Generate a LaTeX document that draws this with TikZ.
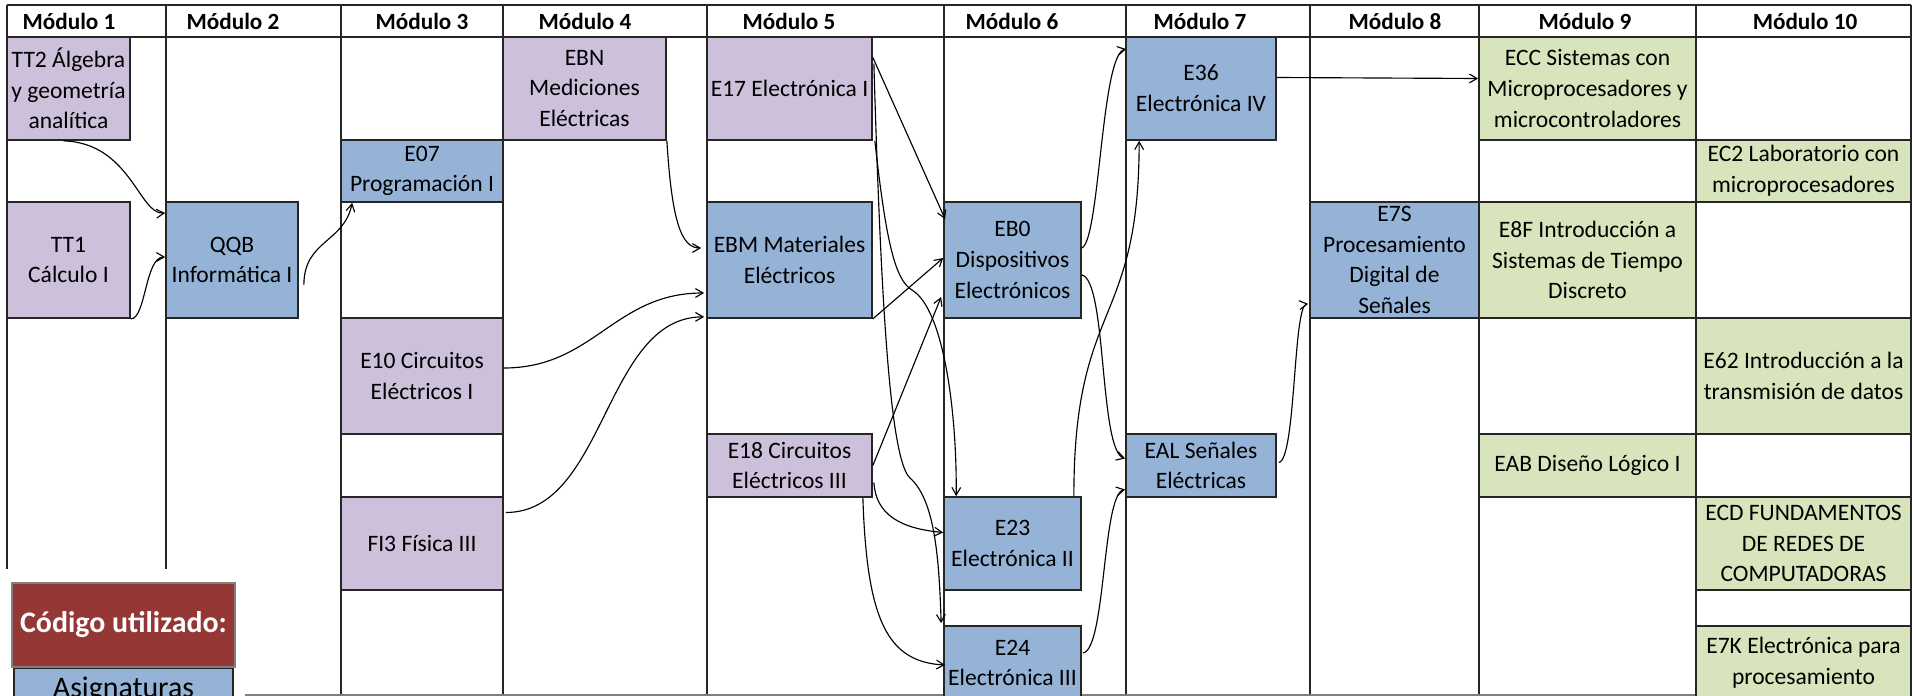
\documentclass[tikz,border=0pt]{standalone}
\usepackage{fontspec}
\setmainfont{Carlito}
\usepackage{tikz}
\usetikzlibrary{arrows.meta,calc}
\definecolor{lila}{RGB}{204,192,218}
\definecolor{azul}{RGB}{149,179,215}
\definecolor{verde}{RGB}{216,228,188}
\definecolor{rojo}{RGB}{149,55,53}

\begin{document}
\begin{tikzpicture}[x=0.02cm,y=-0.02cm]
	\tikzstyle{caja}=[draw=black!85,line width=1pt,inner sep=0pt,align=center,font=\fontsize{13.4}{17.5}\selectfont]
	\tikzstyle{obl}=[caja,fill=lila]
	\tikzstyle{elec}=[caja,fill=azul]
	\tikzstyle{opt}=[caja,fill=verde]
	\tikzstyle{modulo}=[font=\fontsize{13.2}{15}\selectfont\bfseries]
	\tikzstyle{flecha}=[-{Straight Barb[angle=60:5pt]},line width=0.65pt]
	\useasboundingbox (0,0) rectangle (1916,696);
	\draw[line width=1pt,black!85] (7,5) -- (1911,5);
	\draw[line width=1pt,black!85] (7,37) -- (1911,37);
	\draw[line width=1pt,black!85] (7,5) -- (7,569);
	\draw[line width=1pt,black!85] (166,5) -- (166,569);
	\draw[line width=1pt,black!85] (341,5) -- (341,696);
	\draw[line width=1pt,black!85] (503,5) -- (503,696);
	\draw[line width=1pt,black!85] (707,5) -- (707,696);
	\draw[line width=1pt,black!85] (944,5) -- (944,696);
	\draw[line width=1pt,black!85] (1126,5) -- (1126,696);
	\draw[line width=1pt,black!85] (1310,5) -- (1310,696);
	\draw[line width=1pt,black!85] (1479,5) -- (1479,696);
	\draw[line width=1pt,black!85] (1696,5) -- (1696,696);
	\draw[line width=1pt,black!85] (1911,5) -- (1911,696);
	\draw[line width=0.6pt,gray] (245,695) -- (1911,695);
	\node[modulo](h1) at (69,21) {Módulo 1};
	\node[modulo](h2) at (233,21) {Módulo 2};
	\node[modulo](h3) at (422,21) {Módulo 3};
	\node[modulo](h4) at (585,21) {Módulo 4};
	\node[modulo](h5) at (789,21) {Módulo 5};
	\node[modulo](h6) at (1012,21) {Módulo 6};
	\node[modulo](h7) at (1200,21) {Módulo 7};
	\node[modulo](h8) at (1395,21) {Módulo 8};
	\node[modulo](h9) at (1585,21) {Módulo 9};
	\node[modulo](h10) at (1805,21) {Módulo 10};
	\node[obl,minimum width=2.46cm,minimum height=2.06cm](tt2) at (68.5,88.5) {TT2 Álgebra\\y geometría\\analítica};
	\node[obl,minimum width=2.46cm,minimum height=2.32cm](tt1) at (68.5,260) {TT1\\Cálculo I};
	\node[elec,minimum width=2.64cm,minimum height=2.32cm](qqb) at (232,260) {QQB\\Informática I};
	\node[elec,minimum width=3.24cm,minimum height=1.24cm](e07) at (422,171) {E07\\Programación I};
	\node[obl,minimum width=3.24cm,minimum height=2.32cm](e10) at (422,376) {E10 Circuitos\\Eléctricos I};
	\node[obl,minimum width=3.24cm,minimum height=1.86cm](fi3) at (422,543.5) {FI3 Física III};
	\node[obl,minimum width=3.26cm,minimum height=2.06cm](ebn) at (584.5,88.5) {EBN\\Mediciones\\Eléctricas};
	\node[obl,minimum width=3.30cm,minimum height=2.06cm](e17) at (789.5,88.5) {E17 Electrónica I};
	\node[elec,minimum width=3.30cm,minimum height=2.32cm](ebm) at (789.5,260) {EBM Materiales\\Eléctricos};
	\node[obl,minimum width=3.30cm,minimum height=1.26cm](e18) at (789.5,465.5) {E18 Circuitos\\Eléctricos III};
	\node[elec,minimum width=2.74cm,minimum height=2.32cm](eb0) at (1012.5,260) {EB0\\Dispositivos\\Electrónicos};
	\node[elec,minimum width=2.74cm,minimum height=1.86cm](e23) at (1012.5,543.5) {E23\\Electrónica II};
	\node[elec,minimum width=2.74cm,minimum height=1.48cm](e24) at (1012.5,663) {E24\\Electrónica III};
	\node[elec,minimum width=3.00cm,minimum height=2.06cm](e36) at (1201,88.5) {E36\\Electrónica IV};
	\node[elec,minimum width=3.00cm,minimum height=1.26cm](eal) at (1201,465.5) {EAL Señales\\Eléctricas};
	\node[elec,minimum width=3.38cm,minimum height=2.32cm](e7s) at (1394.5,260) {E7S\\Procesamiento\\Digital de\\Señales};
	\node[opt,minimum width=4.34cm,minimum height=2.06cm](ecc) at (1587.5,88.5) {ECC Sistemas con\\Microprocesadores y\\microcontroladores};
	\node[opt,minimum width=4.34cm,minimum height=2.32cm](e8f) at (1587.5,260) {E8F Introducción a\\Sistemas de Tiempo\\Discreto};
	\node[opt,minimum width=4.34cm,minimum height=1.26cm](eab) at (1587.5,465.5) {EAB Diseño Lógico I};
	\node[opt,minimum width=4.30cm,minimum height=1.24cm](ec2) at (1803.5,171) {EC2 Laboratorio con\\microprocesadores};
	\node[opt,minimum width=4.30cm,minimum height=2.32cm](e62) at (1803.5,376) {E62 Introducción a la\\transmisión de datos};
	\node[opt,minimum width=4.30cm,minimum height=1.86cm](ecd) at (1803.5,543.5) {ECD FUNDAMENTOS\\DE REDES DE\\COMPUTADORAS};
	\node[opt,minimum width=4.30cm,minimum height=1.48cm](e7k) at (1803.5,663) {E7K Electrónica para\\procesamiento};
	\node[caja,fill=azul,font=\fontsize{17}{20}\selectfont,minimum width=4.38cm,minimum height=0.88cm](asig) at (123.5,690) {Asignaturas};
	\node[caja,fill=rojo,draw=gray,line width=1.6pt,text=white,font=\fontsize{17}{20}\selectfont\bfseries,minimum width=4.46cm,minimum height=1.68cm](codigo) at (123.5,625) {Código utilizado:};
	\draw[flecha] ($(tt2.south)+(-5,0)$) .. controls +(67,2) and +(-26,2) .. ($(qqb.west)+(0,-47)$);
	\draw[flecha] (tt1.south east) .. controls +(15,0) and +(-20,0) .. ($(qqb.west)+(0,-3)$);
	\draw[flecha] ($(qqb.east)+(5,25)$) .. controls +(0,-45) and +(-8,40) .. ($(e07.south west)+(12,0)$);
	\draw[flecha] (ebn.south east) .. controls +(5,80) and +(-20,0) .. ($(ebm.west)+(-5,-12)$);
	\draw[flecha] ($(e10.east)+(0,-8)$) .. controls +(90,0) and +(-90,0) .. ($(ebm.west)+(-2,33)$);
	\draw[flecha] ($(fi3.east)+(2,-31)$) .. controls +(100,0) and +(-100,0) .. ($(ebm.south west)+(-2,-2)$);
	\draw[flecha] ($(e17.east)+(0,-31)$) -- ($(eb0.north west)+(2,18)$);
	\draw[flecha] ($(e17.east)+(1,-25)$) .. controls +(7,237) and +(-20,-18) .. (910,478) .. controls +(25,22) and +(-2,-64) .. ($(e24.north west)+(-2,-2)$);
	\draw[flecha] ($(e17.south east)+(2,0)$) .. controls +(11,100) and +(-17,-10) .. (912,290) .. controls +(33,20) and +(1,-77) .. ($(e23.north west)+(13,0)$);
	\draw[flecha] (ebm.south east) -- ($(eb0.west)+(0,-2)$);
	\draw[flecha] (e18.east) -- ($(eb0.west)+(-2,37)$);
	\draw[flecha] ($(e18.east)+(1,17)$) .. controls +(2,32) and +(-43,-4) .. ($(e23.west)+(0,-11)$);
	\draw[flecha] ($(e18.south east)+(-10,0)$) .. controls +(4,122) and +(-58,-3) .. ($(e24.west)+(2,2)$);
	\draw[flecha] ($(eb0.east)+(0,-12)$) .. controls +(18,-8) and +(-25,5) .. ($(e36.north west)+(1,13)$);
	\draw[flecha] ($(eb0.east)+(0,15)$) .. controls +(25,5) and +(-26,-8) .. ($(eal.west)+(0,-7)$);
	\draw[flecha] ($(e23.north east)+(-8,0)$) .. controls +(0,-197) and +(0,188) .. ($(e36.south west)+(14,0)$);
	\draw[flecha] ($(e24.east)+(1,-10)$) .. controls +(23,-3) and +(-23,5) .. ($(eal.west)+(0,24)$);
	\draw[flecha] ($(eal.east)+(2,-3)$) .. controls +(17,-3) and +(-15,2) .. ($(e7s.south west)+(-1,-15)$);
	\draw[flecha] ($(e36.east)+(0,-11)$) -- ($(ecc.west)+(0,-10)$);
\end{tikzpicture}
\end{document}
